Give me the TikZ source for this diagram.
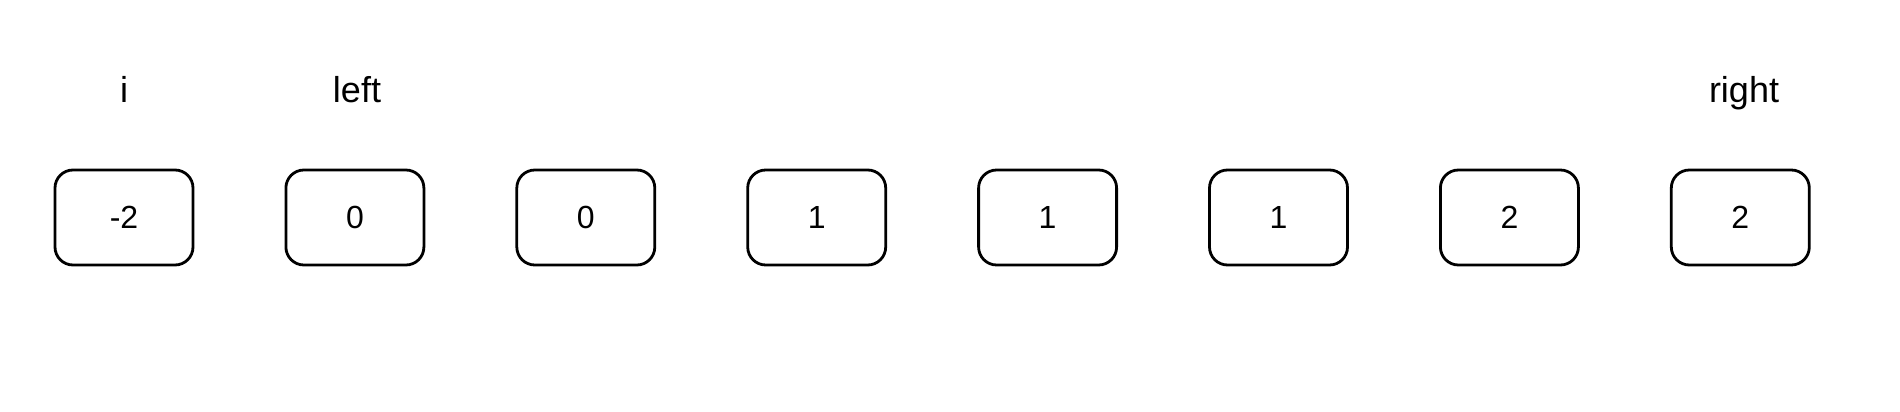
\documentclass[tikz,border=0pt]{standalone}
\usepackage{fontspec}
\setmainfont{Liberation Sans}
\begin{document}
\begin{tikzpicture}[x=1pt,y=-1pt,
  cell/.style={draw=black, line width=2.8pt, rounded corners=18pt, minimum width=138pt, minimum height=95pt, font=\fontsize{32}{38}\selectfont, inner sep=0pt},
  lbl/.style={font=\fontsize{36}{42}\selectfont, inner sep=0pt}]
\useasboundingbox[fill=white] (0,0) rectangle (1900,412);
\foreach \v [count=\k from 0] in {-2,0,0,1,1,1,2,2} {
  \node[cell] (c\k) at ({124+230.9*\k},217.5) {\v};
}
\node[lbl, anchor=base] (li) at (124,102) {i};
\node[lbl, anchor=base] (ll) at (357,102) {left};
\node[lbl, anchor=base] (lr) at (1744,102) {right};
\end{tikzpicture}
\end{document}
